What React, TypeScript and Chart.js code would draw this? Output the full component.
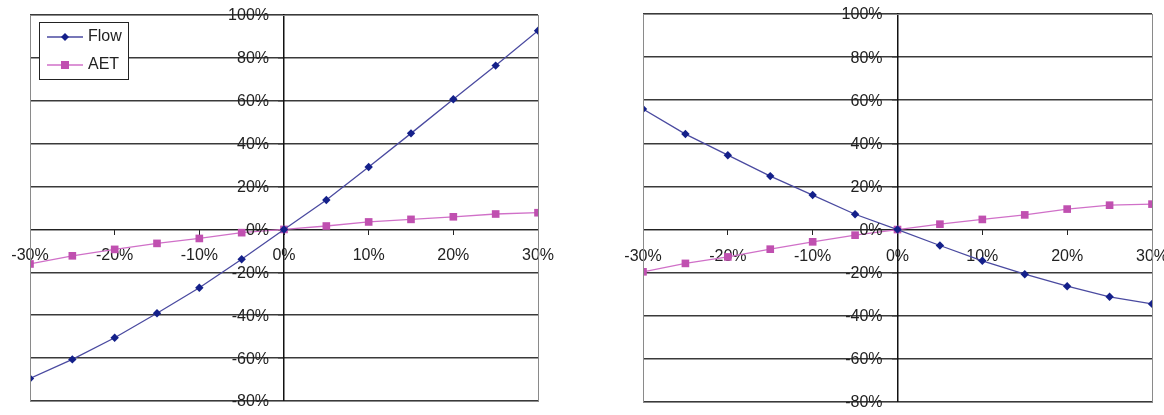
import React, { useEffect, useRef } from "react";
import { Chart, registerables } from "chart.js";

Chart.register(...registerables);

const xValues = [-30, -25, -20, -15, -10, -5, 0, 5, 10, 15, 20, 25, 30];
const leftFlow = [-69.5, -60.6, -50.5, -39.1, -27.2, -13.9, 0, 13.7, 29.1, 44.8, 60.7, 76.4, 92.7];
const leftAET = [-16.1, -12.3, -9.3, -6.5, -4.2, -1.5, 0, 1.6, 3.5, 4.7, 5.9, 7.2, 7.8];
const rightFlow = [55.9, 44.3, 34.5, 24.8, 16.0, 7.1, 0, -7.4, -14.5, -20.7, -26.3, -31.2, -34.5];
const rightAET = [-19.6, -15.7, -12.7, -9.1, -5.7, -2.6, 0, 2.5, 4.7, 6.8, 9.5, 11.3, 11.8];
const seriesNames = ["Flow", "AET"];

const FONT = "'Liberation Sans', Arial, sans-serif";
const TEXT = "#222";
const FLOW_LINE = "#4a4aa0";
const FLOW_MARK = "#14208a";
const AET_LINE = "#d070c8";
const AET_MARK = "#c050b0";

const framePlugin = {
  id: "frame",
  afterDraw(chart: any) {
    const { ctx, chartArea } = chart;
    ctx.save();
    ctx.strokeStyle = "#8a8a8a";
    ctx.lineWidth = 1;
    ctx.strokeRect(
      Math.round(chartArea.left) + 0.5,
      Math.round(chartArea.top) + 0.5,
      Math.round(chartArea.right - chartArea.left),
      Math.round(chartArea.bottom - chartArea.top)
    );
    ctx.restore();
  },
};

// Draws the y-axis tick labels next to the crossing y-axis (left of its tick marks)
const yLabelPlugin = {
  id: "yLabels",
  afterDraw(chart: any) {
    const { ctx } = chart;
    const yScale = chart.scales.y;
    const xScale = chart.scales.x;
    const axisX = xScale.getPixelForValue(0);
    ctx.save();
    ctx.fillStyle = TEXT;
    ctx.font = "16px " + FONT;
    ctx.textAlign = "right";
    ctx.textBaseline = "middle";
    yScale.ticks.forEach((t: any) => {
      const y = yScale.getPixelForValue(t.value);
      ctx.fillText(`${t.value}%`, axisX - 15, y + 1);
    });
    ctx.restore();
  },
};

const boxLegendPlugin = {
  id: "boxLegend",
  afterDraw(chart: any, _args: any, opts: any) {
    if (!opts || !opts.show) return;
    const { ctx, chartArea } = chart;
    const x0 = chartArea.left + 9;
    const y0 = chartArea.top + 7;
    const w = 89;
    const h = 57;
    ctx.save();
    ctx.fillStyle = "#ffffff";
    ctx.fillRect(x0, y0, w, h);
    ctx.strokeStyle = "#222";
    ctx.lineWidth = 1;
    ctx.strokeRect(x0 + 0.5, y0 + 0.5, w, h);
    chart.data.datasets.forEach((ds: any, i: number) => {
      const cy = y0 + 15 + i * 28;
      ctx.strokeStyle = ds.borderColor;
      ctx.lineWidth = 1.5;
      ctx.beginPath();
      ctx.moveTo(x0 + 8, cy);
      ctx.lineTo(x0 + 44, cy);
      ctx.stroke();
      ctx.fillStyle = ds.pointBackgroundColor;
      ctx.beginPath();
      if (ds.pointStyle === "rectRot") {
        ctx.moveTo(x0 + 26, cy - 4);
        ctx.lineTo(x0 + 30, cy);
        ctx.lineTo(x0 + 26, cy + 4);
        ctx.lineTo(x0 + 22, cy);
        ctx.closePath();
      } else {
        ctx.rect(x0 + 22, cy - 4, 8, 8);
      }
      ctx.fill();
      ctx.fillStyle = TEXT;
      ctx.font = "16px " + FONT;
      ctx.textBaseline = "middle";
      ctx.textAlign = "left";
      ctx.fillText(ds.label, x0 + 49, cy);
    });
    ctx.restore();
  },
};

function makeConfig(flow: number[], aet: number[], padding: any, showLegend: boolean): any {
  return {
    type: "line",
    data: {
      datasets: [
        {
          label: seriesNames[0],
          data: xValues.map((x, i) => ({ x, y: flow[i] })),
          borderColor: FLOW_LINE,
          borderWidth: 1.3,
          pointStyle: "rectRot",
          pointRadius: 4.2,
          pointBackgroundColor: FLOW_MARK,
          pointBorderColor: FLOW_MARK,
          pointBorderWidth: 0,
          tension: 0,
        },
        {
          label: seriesNames[1],
          data: xValues.map((x, i) => ({ x, y: aet[i] })),
          borderColor: AET_LINE,
          borderWidth: 1.3,
          pointStyle: "rect",
          pointRadius: 5.4,
          pointBackgroundColor: AET_MARK,
          pointBorderColor: AET_MARK,
          pointBorderWidth: 0,
          tension: 0,
        },
      ],
    },
    options: {
      animation: false,
      responsive: false,
      maintainAspectRatio: false,
      layout: { padding },
      plugins: {
        legend: { display: false },
        tooltip: { enabled: false },
        boxLegend: { show: showLegend },
      },
      scales: {
        x: {
          type: "linear",
          position: { y: 0 },
          min: -30,
          max: 30,
          afterFit: (scale: any) => {
            scale.paddingLeft = 0;
            scale.paddingRight = 0;
          },
          ticks: {
            stepSize: 10,
            callback: (v: number) => `${v}%`,
            font: { family: FONT, size: 16 },
            color: TEXT,
            padding: 12,
            maxRotation: 0,
          },
          grid: {
            drawOnChartArea: false,
            drawTicks: true,
            tickLength: 5,
            color: "#222",
          },
          border: { display: true, color: "#222", width: 1 },
        },
        y: {
          type: "linear",
          position: { x: 0 },
          min: -80,
          max: 100,
          ticks: {
            stepSize: 20,
            display: false,
          },
          grid: {
            drawOnChartArea: true,
            drawTicks: true,
            tickLength: 5,
            color: "#3a3a3a",
            lineWidth: 1.5,
          },
          border: { display: true, color: "#111", width: 1.5 },
        },
      },
    },
    plugins: [framePlugin, yLabelPlugin, boxLegendPlugin],
  };
}

function LineChart(props: { flow: number[]; aet: number[]; padding: any; legend: boolean; width: number; left: number }) {
  const ref = useRef<HTMLCanvasElement | null>(null);
  useEffect(() => {
    if (!ref.current) return;
    const chart = new Chart(ref.current, makeConfig(props.flow, props.aet, props.padding, props.legend));
    return () => chart.destroy();
  }, []);
  return (
    <canvas
      ref={ref}
      width={props.width}
      height={415}
      style={{ position: "absolute", left: props.left, top: 0, width: props.width, height: 415 }}
    />
  );
}

export default function App() {
  return (
    <div style={{ position: "absolute", left: 0, top: 0, width: 1164, height: 415, background: "#fff", overflow: "hidden" }}>
      <LineChart flow={leftFlow} aet={leftAET} padding={{ left: 30, right: 32, top: 15, bottom: 14 }} legend={true} width={570} left={0} />
      <LineChart flow={rightFlow} aet={rightAET} padding={{ left: 73, right: 12, top: 14, bottom: 13 }} legend={false} width={594} left={570} />
    </div>
  );
}
